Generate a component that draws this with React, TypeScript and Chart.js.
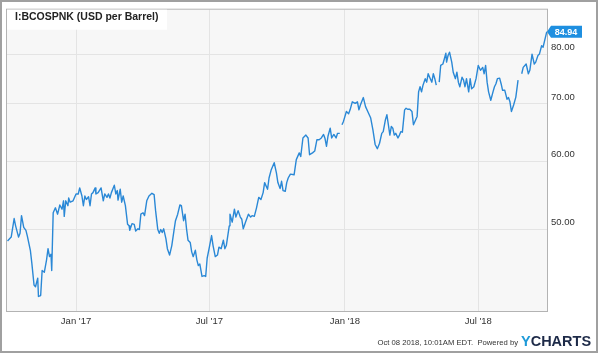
import { useEffect, useRef } from "react";
import { Chart, registerables } from "chart.js";
Chart.register(...registerables);

// Days counted from Jan 1 2017; null = gap in the series
const days = [
  -93, -88, -84, -82, -78, -76, -74, -71, -68, -66, -62, -60, -57, -55, -52, -51, -48, -46, -43, -40,
  -38, -36, -34, -33, -31, -28, -25, -22, -19, -17, -16, -14, -11, -10, -8, -4, 0, 3, 5, 8,
  10, 12, 14, 17, 19, 21, 23, 26, 27, 30, 34, 37, 39, 42, 44, 46, 48, 52, 54, 56,
  57, 60, 62, 64, 67, 70, 72, 73, 76, 79, 81, 84, 86, 88, 91, 93, 96, 99, 103, 106,
  108, 111, 113, 115, 117, 119, 122, 124, 127, 130, 133, 135, 138, 141, 143, 146, 148, 150, 152, 155,
  157, 159, 162, 164, 166, 168, 171, 174, 176, 178, 181, 184, 186, 189, 192, 194, 197, 200, 202, 204,
  208, 209, 212, 215, 217, 220, 223, 225, 227, 230, 234, 237, 239, 242, 245, 248, 251, 254, 256, 260,
  262, 265, 269, 272, 274, 277, 279, 281, 284, 286, 288, 291, 296, 299, 303, 305, 308, 312, 315, 317,
  321, 324, 327, 330, 333, 336, 338, 340, 342, 345, 347, 350, 353, 355, 358, 360, 361, 363, 367, 370,
  372, 375, 379, 382, 384, 386, 390, 393, 396, 398, 400, 403, 406, 409, 412, 415, 417, 420, 422, 424,
  426, 428, 430, 432, 434, 437, 439, 441, 443, 446, 448, 450, 453, 456, 458, 460, 463, 465, 467, 469,
  471, 474, 476, 478, 480, 483, 485, 487, 489, 490, 493, 495, 498, 500, 502, 503, 505, 507, 510, 512,
  515, 517, 519, 521, 524, 526, 528, 530, 533, 535, 537, 540, 543, 546, 549, 552, 554, 556, 558, 560,
  563, 566, 568, 570, 572, 575, 577, 579, 582, 585, 587, 589, 591, 594, 597, 600, 602, 605, 607, 611,
  614, 616, 619, 622, 624, 627, 629, 632, 634, 636, 639,
];
const prices: (number | null)[] = [
  48.5, 49.0, 51.5, 50.5, 49.0, 49.5, 51.9, 50.3, 49.9, 49.1, 47.3, 45.7, 43.1, 42.9, 43.9, 41.8, 41.9, 44.8, 44.6, 46.1,
  47.5, 46.5, 46.8, 44.8, 52.3, 53.0, 52.1, 53.4, 52.8, 54.0, 51.8, 54.0, 53.3, 54.4, 53.8, 54.0, 55.0, 55.0, 55.9, 54.7,
  53.3, 54.7, 54.2, 54.6, 53.3, 55.0, 55.2, 55.9, 55.0, 55.2, 55.9, 54.0, 55.0, 54.5, 55.0, 54.4, 55.2, 56.3, 55.0, 55.5,
  54.1, 55.7, 53.8, 54.7, 53.3, 50.7, 50.5, 49.9, 50.8, 50.7, 49.8, 50.1, 50.0, 52.1, 52.3, 51.9, 54.0, 54.7, 55.1, 54.9,
  52.6, 50.0, 49.5, 50.0, 49.6, 50.1, 48.8, 47.5, 46.7, 47.9, 49.9, 51.2, 52.1, 53.4, 53.3, 51.2, 52.1, 50.1, 48.6, 48.3,
  47.1, 46.5, 47.3, 46.1, 45.4, 45.6, 44.1, 44.2, 44.1, 46.3, 47.7, 49.2, 47.9, 46.5, 46.7, 47.7, 47.5, 48.6, 47.5, 47.9,
  50.5, 52.1, 51.0, 52.8, 51.7, 52.6, 51.7, 51.4, 50.1, 51.0, 52.1, 51.7, 51.9, 51.8, 53.0, 54.5, 54.2, 55.2, 56.7, 55.7,
  57.4, 58.7, 59.8, 58.2, 56.7, 55.8, 56.9, 55.5, 55.4, 56.7, 57.4, 58.0, 57.9, 60.3, 61.4, 60.8, 63.9, 64.4, 63.9, 61.1,
  61.4, 61.7, 63.6, 63.6, 63.9, 64.5, 63.8, 62.5, 64.2, 65.6, 63.9, 64.5, 63.9, 64.7, 64.7, null, 66.2, 66.8, 68.6, 68.2,
  68.9, 70.4, 70.1, 70.4, 68.9, 69.8, 71.2, 69.5, 68.6, 68.0, 67.4, 65.3, 62.8, 62.1, 63.0, 64.7, 65.0, 67.1, 68.0, 66.2,
  64.4, 65.9, 65.6, 64.4, 64.7, 63.9, 64.4, 65.0, 64.9, 68.9, 69.2, 69.0, 69.0, 68.6, 66.2, 66.8, 67.7, 72.3, 73.3, 72.3,
  73.6, 74.9, 74.2, 75.9, 75.2, 74.2, 75.9, 74.9, 73.6, null, 74.2, 77.6, 77.9, 79.0, 80.2, 78.3, 79.7, 80.4, 78.3, 76.2,
  74.9, 76.2, 74.2, 73.3, 75.2, 74.6, 73.3, 74.9, 72.3, 74.9, 72.9, 73.3, 74.9, 77.6, 76.6, 77.2, 75.9, 77.6, 74.2, 72.3,
  70.7, 72.3, 73.3, 73.9, 74.9, 75.0, 73.9, 72.6, 72.6, 70.9, 71.2, 70.4, 68.6, 69.8, 71.3, 74.6, null, 75.9, 77.2, 77.9,
  75.9, 76.6, 80.0, 77.9, 78.3, 79.7, 80.0, 81.8, 81.5, 82.9, 84.94,
];
const xTickDays = [0, 181, 365, 546];
const xTickLabels = ["Jan '17", "Jul '17", "Jan '18", "Jul '18"];
const yTicks = [50, 60, 70, 80];
const titleText = "I:BCOSPNK (USD per Barrel)";
const lastLabel = "84.94";
const footerText = "Oct 08 2018, 10:01AM EDT.  Powered by";

const FONT = "'Liberation Sans', Arial, Helvetica, sans-serif";

export default function App() {
  const ref = useRef<HTMLCanvasElement>(null);
  useEffect(() => {
    document.body.style.margin = "0";
    const canvas = ref.current!;
    const deco = {
      id: "deco",
      beforeDraw(chart: any) {
        const { ctx, chartArea: a } = chart;
        ctx.save();
        ctx.fillStyle = "#ffffff";
        ctx.fillRect(0, 0, chart.width, chart.height);
        ctx.fillStyle = "#f7f7f7";
        ctx.fillRect(a.left, a.top, a.right - a.left, a.bottom - a.top);
        ctx.restore();
      },
      afterDraw(chart: any) {
        const { ctx, chartArea: a } = chart;
        ctx.save();
        // plot border
        ctx.strokeStyle = "#b3b3b3";
        ctx.lineWidth = 1;
        ctx.strokeRect(a.left - 0.5, a.top - 0.5, a.right - a.left + 1, a.bottom - a.top + 1);
        // title box
        ctx.fillStyle = "#ffffff";
        ctx.fillRect(a.left, a.top, 160, 20);
        ctx.fillStyle = "#222222";
        ctx.font = `bold 10.5px ${FONT}`;
        ctx.textBaseline = "middle";
        ctx.textAlign = "left";
        ctx.fillText(titleText, 15, 17);
        // last value badge
        const ds = chart.data.datasets[0].data;
        const last = ds[ds.length - 1];
        const yp = chart.scales.y.getPixelForValue(last.y);
        const xl = a.right;
        ctx.fillStyle = "#1e8fe0";
        ctx.beginPath();
        ctx.moveTo(xl, yp);
        ctx.lineTo(xl + 4, yp - 6);
        ctx.lineTo(582, yp - 6);
        ctx.lineTo(582, yp + 6);
        ctx.lineTo(xl + 4, yp + 6);
        ctx.closePath();
        ctx.fill();
        ctx.fillStyle = "#ffffff";
        ctx.font = `bold 9px ${FONT}`;
        ctx.textAlign = "center";
        ctx.fillText(lastLabel, 566, yp + 0.5);
        // footer
        ctx.fillStyle = "#333333";
        ctx.font = `7.7px ${FONT}`;
        ctx.textAlign = "right";
        ctx.fillText(footerText, 518, 343);
        ctx.textAlign = "left";
        ctx.font = `bold 14.5px ${FONT}`;
        ctx.fillStyle = "#1e9ad8";
        ctx.fillText("Y", 521, 342);
        const wy = ctx.measureText("Y").width;
        ctx.fillStyle = "#1d2a48";
        ctx.fillText("CHARTS", 521 + wy, 342);
        // outer frame
        ctx.strokeStyle = "#a0a0a0";
        ctx.lineWidth = 2;
        ctx.strokeRect(1, 1, 596, 351);
        ctx.restore();
      },
    };

    const points = days.map((d, i) => ({ x: d, y: prices[i] }));

    const chart = new Chart(canvas, {
      type: "line",
      data: {
        datasets: [
          {
            data: points as any,
            borderColor: "#2a88d6",
            borderWidth: 1.4,
            pointRadius: 0,
            tension: 0,
            spanGaps: false,
            borderJoinStyle: "round",
          },
        ],
      },
      options: {
        responsive: false,
        devicePixelRatio: 1,
        animation: false,
        layout: { padding: { left: 7, top: 7, right: 0, bottom: 0 } },
        plugins: { legend: { display: false }, tooltip: { enabled: false } },
        scales: {
          x: {
            type: "linear",
            min: -93.7,
            max: 639.3,
            afterBuildTicks: (s: any) => {
              s.ticks = xTickDays.map((v) => ({ value: v }));
            },
            afterFit: (s: any) => {
              s.height = 43;
            },
            ticks: {
              autoSkip: false,
              maxRotation: 0,
              padding: 5,
              color: "#333333",
              font: { family: FONT, size: 9.5 },
              callback: (v: any) => {
                const i = xTickDays.indexOf(Number(v));
                return i >= 0 ? xTickLabels[i] : "";
              },
            },
            grid: { color: "#e4e4e4", drawTicks: false },
            border: { display: false },
          },
          y: {
            type: "logarithmic",
            position: "right",
            min: 40.2,
            max: 90.1,
            afterBuildTicks: (s: any) => {
              s.ticks = yTicks.map((v) => ({ value: v }));
            },
            afterFit: (s: any) => {
              s.width = 53;
            },
            ticks: {
              padding: 4,
              labelOffset: -7,
              color: "#333333",
              font: { family: FONT, size: 9.5 },
              callback: (v: any) => Number(v).toFixed(2),
            },
            grid: { color: "#e4e4e4", drawTicks: false },
            border: { display: false },
          },
        },
      },
      plugins: [deco],
    });
    return () => chart.destroy();
  }, []);
  return (
    <div style={{ position: "absolute", left: 0, top: 0, width: 600, height: 354 }}>
      <canvas ref={ref} width={600} height={354} style={{ display: "block", width: 600, height: 354 }} />
    </div>
  );
}
